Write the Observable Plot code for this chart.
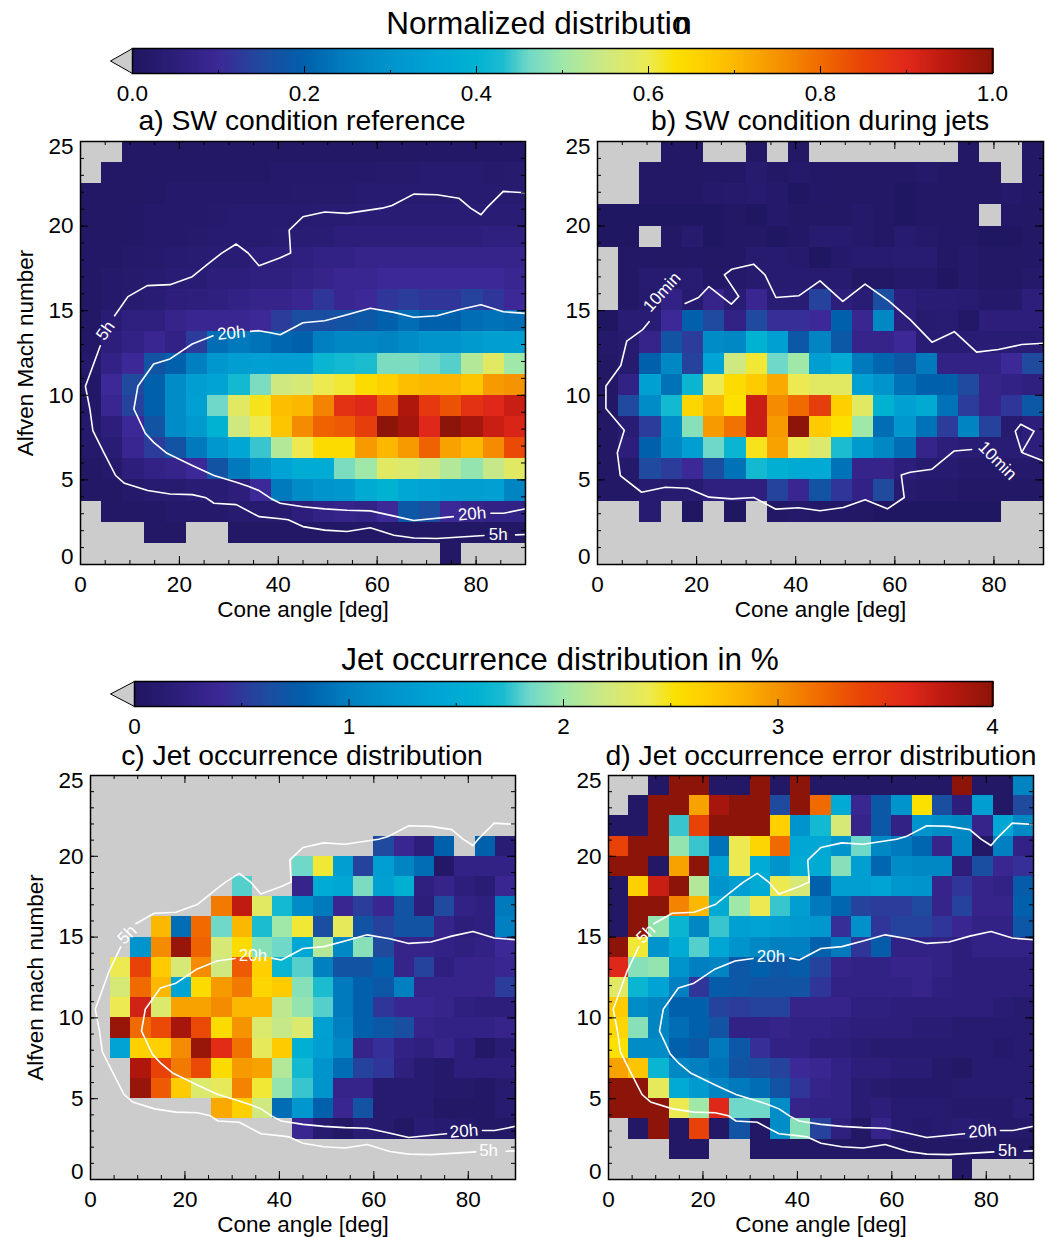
<!DOCTYPE html>
<html><head><meta charset="utf-8">
<script src="https://cdn.jsdelivr.net/npm/d3@7"></script>
<script src="https://cdn.jsdelivr.net/npm/@observablehq/plot@0.6"></script>
<style>
html,body{margin:0;padding:0;background:#fff;font-family:"Liberation Sans",Arial,sans-serif}
#page{position:relative;width:1053px;height:1237px;overflow:hidden}
.ttl{position:absolute;white-space:nowrap;transform:translate(-50%,-50%);color:#000;line-height:1}
svg{position:absolute;background:transparent;overflow:visible}
</style></head><body><div id="page"></div>
<script>
const _ = null;
// colour table
const colorStops = [0,.05,.1,.15,.2,.25,.3,.35,.4,.43,.46,.5,.55,.6,.63,.66,.7,.75,.8,.85,.9,.95,1];
const colorHex = ["#1f1660","#2c1e7a","#3c2896","#1f4a9e","#0060ac","#0080c0","#0094cc","#00a4d4","#00b2d2","#1cbcd0","#70d8c8","#a0e8a8","#d0e880","#ecea50","#fbe000","#fed000","#fcb800","#f59300","#f06a00","#e84208","#e0281a","#b8180e","#8c1408"];

// a) normalized, rows from 25 down to 0, columns from 0 to 90 deg
const sheetA = [
[_,_,.01,.01,.01,.01,.01,.01,.01,.01,.01,.01,.01,.01,.01,.01,.015,.015,.015,.015,.015],
[_,.01,.01,.01,.015,.015,.015,.015,.015,.02,.02,.02,.02,.02,.025,.025,.03,.03,.03,.025,.03],
[.01,.01,.01,.015,.02,.02,.02,.02,.02,.02,.025,.025,.025,.03,.03,.03,.03,.03,.03,.03,.03],
[.01,.01,.015,.02,.02,.02,.025,.03,.03,.03,.03,.035,.035,.04,.04,.04,.04,.04,.04,.04,.04],
[.01,.01,.015,.02,.02,.025,.03,.03,.03,.035,.04,.04,.05,.05,.05,.05,.05,.05,.05,.06,.06],
[.015,.015,.02,.025,.03,.035,.04,.04,.05,.05,.06,.07,.07,.08,.08,.08,.08,.08,.08,.08,.08],
[.01,.02,.025,.03,.04,.04,.05,.05,.06,.06,.07,.08,.09,.09,.1,.1,.1,.1,.1,.1,.09],
[.01,.02,.03,.04,.05,.055,.06,.07,.08,.08,.09,.12,.09,.1,.12,.13,.12,.12,.14,.12,.1],
[.01,.04,.06,.06,.08,.09,.09,.09,.1,.13,.16,.16,.17,.18,.2,.22,.2,.2,.22,.23,.22],
[.015,.05,.07,.09,.07,.13,.22,.24,.23,.21,.2,.25,.27,.27,.26,.28,.3,.3,.32,.33,.33],
[.02,.07,.1,.17,.2,.25,.31,.33,.34,.33,.33,.41,.42,.43,.47,.47,.46,.45,.52,.58,.5],
[.015,.1,.15,.2,.28,.33,.35,.42,.47,.55,.56,.6,.61,.64,.66,.69,.7,.7,.68,.74,.75],
[.015,.09,.14,.2,.28,.34,.46,.58,.62,.69,.7,.77,.88,.9,.82,.96,.87,.83,.88,.9,.93],
[.02,.05,.1,.17,.28,.32,.4,.55,.6,.68,.76,.81,.82,.86,1,.97,.9,1,.97,.93,.91],
[.02,.04,.09,.13,.17,.24,.31,.36,.44,.52,.6,.64,.64,.74,.7,.74,.81,.73,.7,.76,.84],
[.01,.02,.05,.07,.08,.1,.17,.24,.3,.35,.38,.38,.47,.5,.58,.57,.55,.52,.49,.54,.58],
[.01,.01,.02,.03,.03,.04,.04,.05,.1,.24,.28,.3,.31,.37,.4,.36,.35,.33,.33,.34,.26],
[_,.01,.01,.015,.02,.02,.02,.03,.03,.03,.05,.07,.08,.07,.1,.18,.16,.1,.08,.07,.07],
[_,_,_,.01,.01,_,_,.01,.01,.01,.01,.01,.01,.01,.01,.01,.01,.01,.01,.01,.01],
[_,_,_,_,_,_,_,_,_,_,_,_,_,_,_,_,_,.01,_,_,_]];

// b)
const sheetB = [
[_,_,_,.01,.01,_,_,.01,_,.01,_,_,_,_,_,_,_,.01,_,_,.01],
[_,_,.01,.01,.01,.015,.015,.03,.01,.02,.015,.01,.01,.01,.01,.02,.01,.01,.01,_,.01],
[_,_,.01,.01,.01,.02,.025,.03,.02,.005,.015,.01,.01,.01,.005,.01,.01,.01,.01,.02,.015],
[.005,.005,.005,.005,.005,.005,.01,.005,.02,.01,.01,.01,.02,.01,.005,.01,.01,.01,_,.015,.01],
[.005,.005,_,.01,.03,.005,.01,.01,.005,.015,.03,.03,.02,.01,.03,.02,.015,.01,.005,.005,.01],
[_,.01,.015,.01,.015,.01,.01,.03,.03,.025,.005,.02,.03,.03,.035,.035,.01,.02,.01,.01,.015],
[_,.01,.03,.03,.035,.015,.02,.03,.03,.03,.03,.03,.01,.01,.02,.02,.005,.02,.01,.01,.02],
[_,.01,.025,.07,.03,.08,.04,.09,.04,.04,.14,.05,.04,.16,.05,.04,.04,.035,.02,.02,.05],
[.005,.04,.04,.1,.2,.15,.07,.15,.11,.11,.1,.2,.09,.27,.05,.03,.035,.015,.05,.05,.05],
[.02,.03,.08,.17,.13,.28,.27,.4,.34,.18,.26,.18,.08,.08,.1,.04,.04,.04,.04,.04,.04],
[.01,.03,.2,.27,.14,.35,.55,.61,.46,.5,.33,.38,.24,.21,.18,.24,.07,.07,.07,.1,.15],
[.01,.07,.34,.23,.41,.6,.64,.67,.72,.6,.58,.58,.34,.3,.23,.2,.2,.15,.08,.07,.06],
[.01,.15,.28,.42,.65,.7,.63,.93,.76,.8,.86,.66,.58,.4,.34,.37,.23,.13,.08,.12,.18],
[.01,.04,.13,.28,.48,.74,.79,.93,.74,1,.67,.63,.5,.22,.31,.23,.13,.26,.14,.03,.05],
[.01,.05,.2,.27,.33,.46,.41,.62,.73,.6,.57,.43,.32,.27,.22,.08,.05,.04,.04,.04,.05],
[.01,.02,.15,.13,.1,.16,.23,.42,.39,.37,.37,.23,.08,.08,.05,.03,.03,.02,.02,.02,.02],
[.01,.01,.03,.03,.03,.06,.06,.06,.14,.09,.17,.12,.07,.15,.03,.02,.02,.01,.01,.01,.01],
[_,_,.03,_,.005,_,.005,_,.01,.02,.015,.015,.01,.005,.005,.005,.005,.005,.005,_,_],
[_,_,_,_,_,_,_,_,_,_,_,_,_,_,_,_,_,_,_,_,_],
[_,_,_,_,_,_,_,_,_,_,_,_,_,_,_,_,_,_,_,_,_]];

// c) jet occurrence in %
const sheetC = [
[_,_,_,_,_,_,_,_,_,_,_,_,_,_,_,_,_,_,_,_,_],
[_,_,_,_,_,_,_,_,_,_,_,_,_,_,_,_,_,_,_,_,_],
[_,_,_,_,_,_,_,_,_,_,_,_,_,_,_,_,_,_,_,_,_],
[_,_,_,_,_,_,_,_,_,_,_,_,_,_,.6,.36,.2,.8,_,.8,.16],
[_,_,_,_,_,_,_,_,_,_,1.84,2.44,1.32,.56,1.32,1.04,.88,.05,.28,.28,.28],
[_,_,_,_,_,_,_,1.8,_,_,.32,1.52,1.44,1.88,1.36,1.56,.24,.32,.2,.16,.36],
[_,_,_,_,_,_,3.12,3.76,2.32,1.68,1.12,.96,.36,.52,.36,.68,.2,.6,.28,.24,.96],
[_,_,_,2.8,.88,3.2,1.84,2.8,1.72,2,2.44,.64,2.36,.68,.56,.68,.68,.32,.2,.24,1],
[_,_,1.2,3.04,3.95,3.24,2.24,2.56,1.92,1.84,1.44,2.08,1.08,1.92,.6,.32,.32,.28,.24,.28,.4],
[_,2.4,3.4,2.68,2.24,3.04,2.2,3.28,2.64,1.64,1.8,1,.68,.68,.8,.32,.56,.24,.32,.32,.36],
[_,2.24,3.2,2.8,1.4,2.56,2.96,3.12,2.6,2.68,1.92,1.72,.96,.8,.72,1,.32,.32,.32,.32,.52],
[_,2.4,3.68,2.28,2.92,2.92,3.04,2.8,2.8,2.12,1.96,1.8,.96,.8,.48,.36,.36,.32,.24,.2,.2],
[_,3.95,3.2,3.36,3.88,3.36,2.56,3,2.28,2.16,2.28,1.36,1,.8,.72,.64,.32,.28,.28,.28,.32],
[_,1.4,2.64,2.64,3.04,3.95,3.56,3.16,2.36,2.68,1.56,1.32,1.08,.32,.44,.28,.24,.32,.2,.05,.16],
[_,_,3.84,3.4,3.12,3.36,2.56,2.96,2.92,2.08,1.68,1.2,.88,.56,.48,.24,.12,.08,.2,.2,.2],
[_,_,3.95,3.28,2.68,2.28,2.36,3.08,2.44,1.96,1.76,1.2,.32,.32,.12,.12,.12,.08,.08,.06,.12],
[_,_,_,_,_,_,2.88,2.64,2.2,.88,1.24,.8,.36,.68,.12,.12,.12,.04,.04,.04,.12],
[_,_,_,_,_,_,_,_,_,_,.36,.12,.04,.16,.12,.04,.16,.12,.08,.04,.04],
[_,_,_,_,_,_,_,_,_,_,_,_,_,_,_,_,_,_,_,_,_],
[_,_,_,_,_,_,_,_,_,_,_,_,_,_,_,_,_,_,_,_,_]];

// d) jet occurrence error in %
const sheetD = [
[_,_,.04,4,4,.04,.04,4,.04,4,.04,.04,.04,.04,.04,.04,.04,4,.04,.04,1.04],
[_,.04,4,4,2.92,3.88,4,4,.6,4,3.2,1.48,.36,.72,1.2,2.52,.64,.2,1.32,.04,.6],
[.04,.04,4,1.76,3.4,4,4,4,2.64,1.2,1.68,2.24,.32,.72,.28,1.2,1.12,1.08,.32,1.44,1.08],
[3.4,4,4,1.96,1.76,.92,2.4,2.6,3.2,1.44,1.44,1.2,1.84,1.08,.96,.84,.32,1.04,.04,1,.28],
[4,4,.04,2.92,4,1.36,2.4,1.52,1.2,1.48,1.48,1.92,1.32,.84,1.12,1.08,1.08,.2,.64,.36,.44],
[.04,2.64,3.72,4,2.08,1.2,1.32,1.48,2.4,2.24,.8,1.32,1.32,1.4,1.24,1.2,.32,.48,.32,.28,.76],
[.04,4,4,3.08,2.8,1.48,2,2.4,1.76,1.32,.96,.84,.56,.52,.52,.6,.32,.56,.32,.32,.8],
[.04,4,1.96,1.64,1.08,1.76,1.36,1.4,1.32,1.28,1.24,.44,1.16,.48,.56,.56,.48,.36,.28,.28,.72],
[4,2.44,1.2,1.52,1.8,1.44,1.2,1.08,1,1,.8,.96,.48,.76,.28,.28,.28,.2,.28,.28,.28],
[3.6,1.92,1.96,1.2,1,1.04,.72,.8,.72,.76,.56,.32,.28,.28,.32,.32,.28,.2,.2,.2,.2],
[2.32,1.64,1.4,1,.48,.76,.72,.68,.68,.68,.48,.28,.28,.28,.28,.32,.24,.2,.2,.2,.2],
[2.68,1.12,1.04,.8,.8,.56,.52,.56,.56,.32,.32,.32,.24,.24,.2,.2,.2,.2,.2,.16,.12],
[2.6,1.92,1.04,.88,.8,.68,.28,.28,.32,.28,.28,.24,.2,.2,.2,.16,.16,.12,.12,.12,.12],
[2.52,1.12,1.12,.8,.72,.96,.72,.44,.28,.28,.2,.2,.16,.12,.12,.12,.12,.12,.12,.08,.12],
[2.92,2.72,1.64,1.08,1,.92,.68,.64,.56,.4,.36,.28,.2,.2,.16,.16,.08,.04,.12,.12,.12],
[4,4,2.36,1.48,1.28,1.04,.96,.88,.68,.48,.32,.28,.16,.12,.08,.08,.08,.12,.12,.12,.12],
[4,4,4,2.4,2,3.6,1.84,1.84,1.12,.32,.28,.28,.16,.2,.12,.12,.12,.08,.08,.08,.16],
[_,.04,4,.04,3.4,.04,.68,.04,1.12,1.92,.56,.24,.04,.32,.12,.08,.12,.16,.12,.08,.08],
[_,_,_,.04,.04,_,_,.04,.04,.04,.04,.04,.04,.04,.04,.04,.04,.04,.04,.04,.04],
[_,_,_,_,_,_,_,_,_,_,_,_,_,_,_,_,_,.04,_,_,_]];

// contours [cone angle, Mach number]; a null marks a permanent label gap
const contour5h = [[90,21.97],[85.5,22.05],[82.1,21.06],[81,20.67],[78.9,21.06],[76.5,21.65],[72.1,21.85],[67.4,21.89],[63,21.22],[61,21.06],[53.9,20.75],[49.4,20.83],[45,20.55],[42.2,19.76],[42.5,18.41],[40.4,18.13],[36.1,17.66],[33.9,18.41],[31.5,18.94],[28.5,18.39],[25.6,17.72],[22.6,17.01],[18.1,16.54],[13.5,16.48],[9.6,15.83],[6.9,14.7],[6.4,14.4],[4,12.93],[1,10.53],[1.9,9.19],[2.5,7.91],[4.7,6.63],[7.1,5.26],[8.9,4.8],[13.6,4.37],[18.1,4.17],[22.6,4.13],[25.4,3.94],[27,3.62],[31.5,3.54],[36.1,2.83],[40.4,2.7],[42,2.64],[45,2.24],[49.4,2.03],[53.9,1.95],[58.6,2.17],[63.4,1.73],[67.4,1.57],[72.1,1.54],[81.6,1.71],[84.5,null],[88,1.75],[90,1.77]];
const contour20h = [[90,3.29],[85.6,3.03],[83,3.03],[79,null],[75.4,2.83],[67.4,2.6],[63,2.89],[58.6,3.17],[53.9,3.21],[49.4,3.29],[45,3.41],[40.4,3.62],[38.4,3.92],[36.1,4.37],[33.9,4.63],[31.5,4.86],[27,5.26],[22.6,5.85],[17.5,6.57],[14.8,7.22],[13.1,7.76],[10.8,9.19],[11.6,10.53],[14.8,11.85],[18.1,12.15],[22.6,13.03],[26.8,13.52],[30.6,13.68],[34.4,13.78],[36.1,13.82],[38.4,13.7],[40.4,13.58],[45,14.29],[49.4,14.41],[53.9,14.76],[58.6,15.14],[63.4,14.9],[67.4,14.61],[72.1,14.7],[76.5,15.06],[81,15.35],[85.5,14.94],[90,14.84]];
const contour10min = [[17.7,15.43],[20.4,15.78],[22.5,16.43],[27,15.39],[28.5,15.84],[25.6,17.12],[27.1,17.45],[31.5,17.75],[33.8,17.12],[36,15.78],[40.6,15.88],[44.9,16.76],[49.5,15.55],[54,16.57],[58.7,15.59],[63.1,14.47],[67.5,13.14],[72,13.76],[76.5,12.55],[80.9,12.71],[85.6,13],[90,13.08]];
const contour10minLower = [[10.4,14.35],[9.1,13.88],[5.9,13.2],[4.7,11.76],[1.7,10.55],[1.7,9.22],[5.4,7.94],[4,6.61],[4.6,5.25],[8.9,4.27],[13.7,4.57],[18.2,4.51],[22.5,3.98],[27.1,3.88],[31.5,3.96],[36,3.27],[40.6,3.35],[44.9,3.18],[49.6,3.37],[54,3.82],[58.5,3.29],[61.9,3.96],[61.3,5.29],[63.1,5.45],[67.5,5.63],[72,6.71],[75.5,6.8]];
const contour10minRight = [[90,6.12],[86,6.57],[85.6,6.63],[84.3,7.88],[85.4,8.29],[88.1,7.88],[85.6,6.63]];

const labelsA = [{t:"5h",x:5.05,y:13.82,r:-55},{t:"20h",x:30.5,y:13.68,r:-5},{t:"20h",x:79.2,y:2.99,r:-5},{t:"5h",x:84.5,y:1.77,r:0}];
const labelsB = [{t:"10min",x:13,y:16.1,r:-48},{t:"10min",x:80.7,y:6.14,r:45}];
const labelsC = [{t:"5h",x:7.76,y:15.15,r:-45},{t:"20h",x:34.4,y:13.83,r:0},{t:"20h",x:79.1,y:2.99,r:-5},{t:"5h",x:84.3,y:1.77,r:0}];
const labelsD = [{t:"5h",x:7.9,y:15.2,r:-45},{t:"20h",x:34.4,y:13.8,r:0},{t:"20h",x:79.2,y:2.99,r:-5},{t:"5h",x:84.5,y:1.77,r:0}];

const xLabels = [0,20,40,60,80];
const yLabels = [0,5,10,15,20,25];
const xMinor = d3.range(0,91,5);
const yMinor = d3.range(0,26,1);

const colorDomainA = colorStops;
const colorDomainC = colorStops.map(d=>d*4);
const FONT = "Liberation Sans";
const page = document.getElementById("page");

function title(html,cx,cy,size){
  const d=document.createElement("div");d.className="ttl";d.innerHTML=html;
  d.style.left=cx+"px";d.style.top=cy+"px";d.style.fontSize=size+"px";page.appendChild(d);
}
function place(svg,l,t){svg.style.left=l+"px";svg.style.top=t+"px";page.appendChild(svg);}

function cells(rows){
  const nc=rows[0].length,nr=rows.length,dx=90/nc,dy=25/nr,out=[];
  rows.forEach((row,r)=>row.forEach((v,c)=>{ if(v!==null) out.push({x1:c*dx,x2:(c+1)*dx,y2:25-r*dy,y1:25-(r+1)*dy,v}); }));
  return out;
}
const inBox=(p,b)=>p[0]>b[0]&&p[0]<b[1]&&p[1]>b[2]&&p[1]<b[3];
function gapped(pts,boxes=[]){return pts.map(p=>({x:p[0],y:(p[1]===null||boxes.some(b=>inBox(p,b)))?null:p[1]}));}

function panel(o){
  const mL=o.mL,mR=10,mT=8,mB=60,h=o.h,w=o.w;
  const lineMarks=o.lines.map(l=>Plot.line(l,{x:"x",y:"y",stroke:"#fff",strokeWidth:1.6,curve:"linear"}));
  const lab={fontFamily:FONT,fontSize:22.5,fill:"#000"};
  const svg=Plot.plot({
    width:w+mL+mR,height:h+mT+mB,marginLeft:mL,marginRight:mR,marginTop:mT,marginBottom:mB,
    style:{background:"transparent",overflow:"visible"},
    x:{domain:[0,90],axis:null},y:{domain:[0,25],axis:null},
    color:{type:"linear",domain:o.domain,range:colorHex,interpolate:"rgb",clamp:true},
    marks:[
      Plot.frame({fill:"#cccccc",stroke:"none"}),
      Plot.rect(cells(o.rows),{x1:"x1",x2:"x2",y1:"y1",y2:"y2",fill:"v",shapeRendering:"crispEdges"}),
      ...lineMarks,
      ...o.labels.map(l=>Plot.text([l],{x:"x",y:"y",text:"t",rotate:l.r,fill:"#fff",fontSize:17,fontFamily:FONT})),
      Plot.tickX(xMinor,{x:d=>d,insetTop:h-4,stroke:"#000"}),
      Plot.tickX(xMinor,{x:d=>d,insetBottom:h-4,stroke:"#000"}),
      Plot.tickX(xLabels,{x:d=>d,insetTop:h-8,stroke:"#000"}),
      Plot.tickX(xLabels,{x:d=>d,insetBottom:h-8,stroke:"#000"}),
      Plot.tickY(yMinor,{y:d=>d,insetRight:w-4,stroke:"#000"}),
      Plot.tickY(yMinor,{y:d=>d,insetLeft:w-4,stroke:"#000"}),
      Plot.tickY(yLabels,{y:d=>d,insetRight:w-8,stroke:"#000"}),
      Plot.tickY(yLabels,{y:d=>d,insetLeft:w-8,stroke:"#000"}),
      Plot.frame({stroke:"#000",strokeWidth:1.5}),
      Plot.text(xLabels,{x:d=>d,text:d=>String(d),frameAnchor:"bottom",dy:27.5,...lab}),
      Plot.text(yLabels.slice(1,-1),{y:d=>d,text:d=>String(d),frameAnchor:"left",textAnchor:"end",dx:-7,...lab}),
      Plot.text([0],{y:d=>d,text:d=>String(d),frameAnchor:"left",textAnchor:"end",dx:-7,dy:-8,...lab}),
      Plot.text([25],{y:d=>d,text:d=>String(d),frameAnchor:"left",textAnchor:"end",dx:-7,dy:5,...lab}),
      Plot.text(["Cone angle [deg]"],{text:d=>d,frameAnchor:"bottom",dy:52,...lab}),
      ...(o.yLabel?[Plot.text([o.yLabel],{text:d=>d,frameAnchor:"left",textAnchor:"middle",rotate:-90,dx:-55,...lab})]:[])
    ]
  });
  place(svg,o.l-mL,o.t-mT);
}

function colorbar(o){
  const n=o.l2-o.l,h=o.b-o.t,mL=30,mR=10,mT=2,mB=32,max=o.max;
  const ramp=d3.range(0,1,0.002).map(d=>d*max);
  const tip=[[0,0],[-(o.l-110)/n*max,.5],[0,1],[0,0]].map(([x,y])=>({x,y}));
  const svg=Plot.plot({
    width:n+mL+mR,height:h+mT+mB,marginLeft:mL,marginRight:mR,marginTop:mT,marginBottom:mB,
    style:{background:"transparent",overflow:"visible"},
    x:{domain:[0,max],axis:null},y:{domain:[0,1],axis:null},
    color:{type:"linear",domain:o.domain,range:colorHex,interpolate:"rgb",clamp:true},
    marks:[
      Plot.rect(ramp,{x1:d=>d,x2:d=>d+0.004*max,y1:0,y2:1,fill:d=>d,shapeRendering:"crispEdges"}),
      Plot.line(tip,{x:"x",y:"y",fill:"#cccccc",stroke:"#000",strokeWidth:1}),
      Plot.tickX(o.minor,{x:d=>d,insetTop:h-3,stroke:"#000"}),
      Plot.tickX(o.major,{x:d=>d,insetTop:h-7,stroke:"#000"}),
      Plot.frame({stroke:"#000",strokeWidth:1.5}),
      Plot.text(o.major,{x:d=>d,text:o.fmt,frameAnchor:"bottom",dy:27,fontFamily:FONT,fontSize:22.5,fill:"#000"})
    ]
  });
  place(svg,o.l-mL,o.t-mT);
}

title('Normalized distributio<span style="margin-left:-15px">n</span>',539,24,31.5);
colorbar({l:132,l2:992,t:48,b:73,max:1,domain:colorDomainA,major:[0,.2,.4,.6,.8,1],minor:[.1,.3,.5,.7,.9],fmt:d=>d.toFixed(1)});
title("a) SW condition reference",302,120,28.3);
title("b) SW condition during jets",820,120,28.3);
panel({l:80,t:141,w:445,h:423,mL:70,rows:sheetA,domain:colorDomainA,yLabel:"Alfven Mach number",labels:labelsA,
  lines:[gapped(contour5h,[[6.3,6.5,14.3,14.5]]),gapped(contour20h,[[27,34,13,14]])]});
panel({l:597,t:141,w:446,h:423,mL:45,rows:sheetB,domain:colorDomainA,labels:labelsB,
  lines:[gapped(contour10min),gapped(contour10minLower),gapped(contour10minRight)]});

title("Jet occurrence distribution in %",560,660,31.5);
colorbar({l:134,l2:992,t:681,b:706,max:4,domain:colorDomainC,major:[0,1,2,3,4],minor:[.5,1.5,2.5,3.5],fmt:d=>String(d)});
title("c) Jet occurrence distribution",302,755,28.3);
title("d) Jet occurrence error distribution",821,755,28.3);
const boxC=[[6.5,7,14.6,14.8]];
const boxC20=[[31,38,13.7,14]];
panel({l:90,t:775,w:425,h:404,mL:70,rows:sheetC,domain:colorDomainC,yLabel:"Alfven mach number",labels:labelsC,
  lines:[gapped(contour5h,boxC),gapped(contour20h,boxC20)]});
panel({l:608,t:775,w:425,h:404,mL:45,rows:sheetD,domain:colorDomainC,labels:labelsD,
  lines:[gapped(contour5h,boxC),gapped(contour20h,boxC20)]});
</script></body></html>
